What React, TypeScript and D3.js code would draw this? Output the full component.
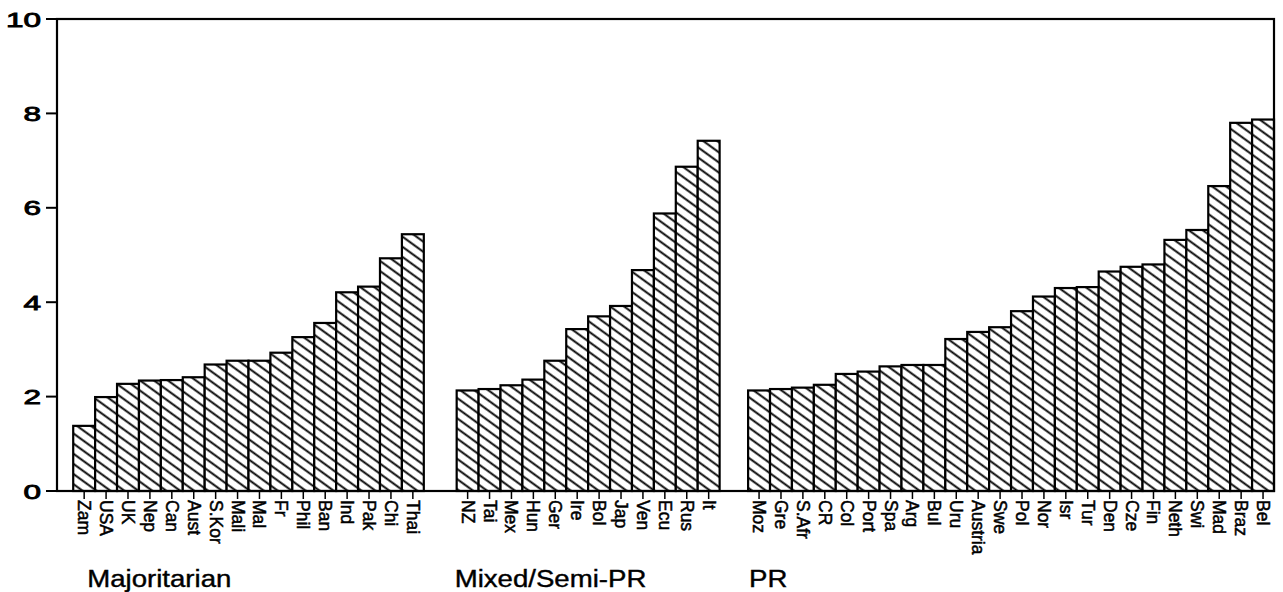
import { useEffect, useRef } from 'react';
import * as d3 from 'd3';

const WIDTH = 1283;
const HEIGHT = 592;

// Majoritarian
const majCountries = ['Zam', 'USA', 'UK', 'Nep', 'Can', 'Aust', 'S.Kor', 'Mali', 'Mal', 'Fr', 'Phil', 'Ban', 'Ind', 'Pak', 'Chi', 'Thai'];
const majValues = [1.38, 1.99, 2.27, 2.34, 2.35, 2.41, 2.68, 2.76, 2.76, 2.93, 3.26, 3.56, 4.21, 4.33, 4.93, 5.44];

// Mixed / Semi-PR
const mixCountries = ['NZ', 'Tai', 'Mex', 'Hun', 'Ger', 'Ire', 'Bol', 'Jap', 'Ven', 'Ecu', 'Rus', 'It'];
const mixValues = [2.13, 2.16, 2.24, 2.36, 2.76, 3.43, 3.7, 3.92, 4.68, 5.88, 6.87, 7.42];

// PR
const prCountries = ['Moz', 'Gre', 'S.Afr', 'CR', 'Col', 'Port', 'Spa', 'Arg', 'Bul', 'Uru', 'Austria', 'Swe', 'Pol', 'Nor', 'Isr', 'Tur', 'Den', 'Cze', 'Fin', 'Neth', 'Swi', 'Mad', 'Braz', 'Bel'];
const prValues = [2.13, 2.16, 2.19, 2.25, 2.48, 2.53, 2.64, 2.67, 2.67, 3.22, 3.37, 3.47, 3.81, 4.12, 4.3, 4.32, 4.65, 4.75, 4.8, 5.32, 5.53, 6.46, 7.8, 7.87];

const groupNames = ['Majoritarian', 'Mixed/Semi-PR', 'PR'];
const yTicks = [0, 2, 4, 6, 8, 10];

// layout
const PLOT = { left: 57, top: 19, right: 1274, bottom: 491 };
const GAP_SLOTS = [1.5, 1.3]; // empty space between groups, in bar widths
const LEAD_SLOTS = 0.74; // space before first bar
const GROUP_LABEL_SHIFT = [14, -2, 1];
const FONT = '"Liberation Sans", Arial, Helvetica, sans-serif';

type Bar = { name: string; value: number; slot: number; group: number };

export default function App() {
  const svgRef = useRef<SVGSVGElement>(null);

  useEffect(() => {
    if (!svgRef.current) return;
    const svg = d3.select(svgRef.current);
    svg.selectAll('*').remove();

    const groups = [
      { names: majCountries, values: majValues },
      { names: mixCountries, values: mixValues },
      { names: prCountries, values: prValues },
    ];

    // bars laid out in slot units
    const bars: Bar[] = [];
    const groupStarts: number[] = [];
    let slot = 0;
    groups.forEach((g, gi) => {
      if (gi > 0) slot += GAP_SLOTS[gi - 1];
      groupStarts.push(slot);
      g.names.forEach((name, i) => {
        bars.push({ name, value: g.values[i], slot, group: gi });
        slot += 1;
      });
    });
    const totalSlots = slot;

    const x = d3.scaleLinear().domain([-LEAD_SLOTS, totalSlots]).range([PLOT.left, PLOT.right]);
    const y = d3.scaleLinear().domain([0, 10]).range([PLOT.bottom, PLOT.top]);

    // hatch
    const defs = svg.append('defs');
    const pat = defs
      .append('pattern')
      .attr('id', 'hatch')
      .attr('patternUnits', 'userSpaceOnUse')
      .attr('width', 12)
      .attr('height', 8.2)
      .attr('patternTransform', 'rotate(36)');
    pat.append('rect').attr('width', 12).attr('height', 8.2).attr('fill', '#fff');
    pat
      .append('line')
      .attr('x1', 0)
      .attr('x2', 12)
      .attr('y1', 4.1)
      .attr('y2', 4.1)
      .attr('stroke', '#000')
      .attr('stroke-width', 1.9);

    const g = svg.append('g');

    // bars
    g.selectAll('rect.bar')
      .data(bars)
      .join('rect')
      .attr('class', 'bar')
      .attr('x', d => x(d.slot))
      .attr('y', d => y(d.value))
      .attr('width', d => x(d.slot + 1) - x(d.slot))
      .attr('height', d => y(0) - y(d.value))
      .attr('fill', 'url(#hatch)')
      .attr('stroke', '#000')
      .attr('stroke-width', 2.2);

    // frame
    g.append('rect')
      .attr('x', PLOT.left)
      .attr('y', PLOT.top)
      .attr('width', PLOT.right - PLOT.left)
      .attr('height', PLOT.bottom - PLOT.top)
      .attr('fill', 'none')
      .attr('stroke', '#000')
      .attr('stroke-width', 2.2);

    // y ticks + labels
    yTicks.forEach(t => {
      g.append('line')
        .attr('x1', PLOT.left - 11)
        .attr('x2', PLOT.left)
        .attr('y1', y(t))
        .attr('y2', y(t))
        .attr('stroke', '#000')
        .attr('stroke-width', 2);
      g.append('text')
        .attr('transform', `translate(41, ${y(t)}) scale(1.5, 1)`)
        .attr('text-anchor', 'end')
        .attr('dy', '0.36em')
        .style('font-family', FONT)
        .style('font-size', '21px')
        .style('fill', '#000')
        .style('stroke', '#000')
        .style('stroke-width', '0.9px')
        .text(t);
    });

    // x ticks
    g.selectAll('line.xtick')
      .data(bars)
      .join('line')
      .attr('class', 'xtick')
      .attr('x1', d => x(d.slot + 0.5))
      .attr('x2', d => x(d.slot + 0.5))
      .attr('y1', PLOT.bottom)
      .attr('y2', PLOT.bottom + 8)
      .attr('stroke', '#000')
      .attr('stroke-width', 1.5);

    // x labels, rotated clockwise
    g.selectAll('text.xlab')
      .data(bars)
      .join('text')
      .attr('class', 'xlab')
      .attr('transform', d => `translate(${x(d.slot + 0.5)}, ${PLOT.bottom + 9}) rotate(90)`)
      .attr('y', 6)
      .attr('text-anchor', 'start')
      .style('font-family', FONT)
      .style('font-size', '17.5px')
      .style('fill', '#000')
      .style('stroke', '#000')
      .style('stroke-width', '0.5px')
      .text(d => d.name);

    // group labels
    groupNames.forEach((name, gi) => {
      g.append('text')
        .attr('transform', `translate(${x(groupStarts[gi]) + GROUP_LABEL_SHIFT[gi]}, 587) scale(1.15, 1)`)
        .style('font-family', FONT)
        .style('font-size', '24px')
        .style('fill', '#000')
        .style('stroke', '#000')
        .style('stroke-width', '0.4px')
        .text(name);
    });
  }, []);

  return (
    <svg
      ref={svgRef}
      width={WIDTH}
      height={HEIGHT}
      style={{ position: 'absolute', left: 0, top: 0, background: '#fff' }}
    />
  );
}
